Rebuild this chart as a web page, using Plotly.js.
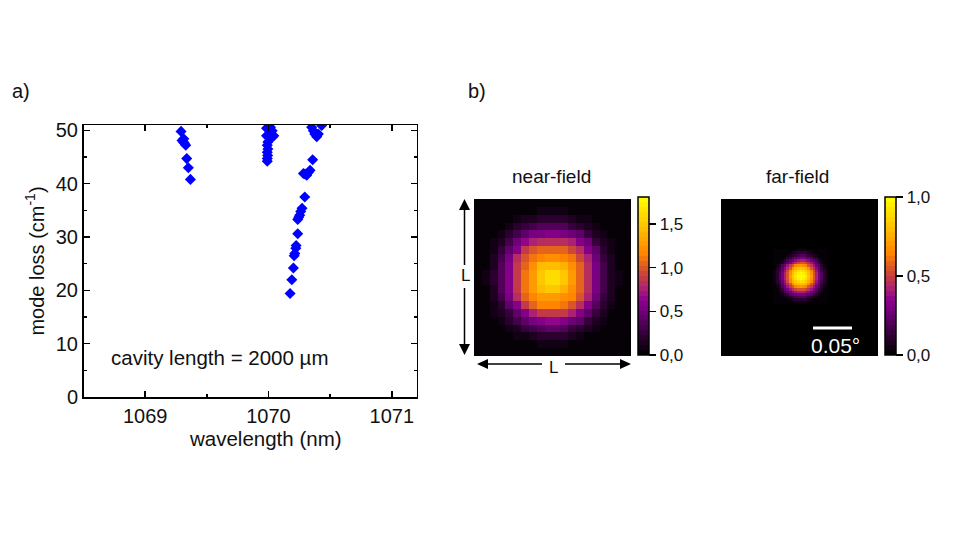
<!DOCTYPE html>
<html><head><meta charset="utf-8">
<script src="https://cdn.plot.ly/plotly-3.0.1.min.js"></script>
<style>html,body{margin:0;padding:0;background:#fff}#c{width:960px;height:540px}</style>
</head><body><div id="c"></div>
<script>
const wavelength = [1069.291,1069.299,1069.313,1069.31,1069.318,1069.329,1069.337,1069.35,1069.367,
 1069.99,1069.99,1069.993,1069.99,1069.995,1069.99,1069.995,1069.984,1070.011,1070.03,1070.011,1070.03,1069.984,1070.016,1070.043,
 1070.175,1070.189,1070.202,1070.208,1070.213,1070.221,1070.224,1070.237,1070.237,1070.245,1070.253,1070.261,1070.272,1070.294,
 1070.283,1070.296,1070.31,1070.323,1070.337,1070.358,1070.35,1070.364,1070.375,1070.391,1070.404,1070.431];
const modeLoss = [49.8,48.1,48.4,47.8,47.6,47.2,44.7,43.0,40.8,
 44.2,44.7,45.3,45.9,46.5,47.2,47.8,49.0,48.4,48.7,49.3,49.9,50.4,50.6,49.0,
 19.4,22.0,24.2,26.5,26.9,27.9,28.4,30.6,33.3,33.7,34.1,34.8,35.4,37.5,
 41.9,41.8,41.6,42.1,42.5,44.5,50.6,49.9,49.3,48.8,49.3,50.9];
const xTicks = [1069,1070,1071];
const yTicks = [0,10,20,30,40,50];
const nearField = [
[0,0,0,0,0,0,0,0,.01,.01,.01,.01,0,0,0,0,0,0,0,0],
[0,0,0,.01,.01,.02,.04,.05,.08,.09,.09,.08,.05,.03,.02,.01,.01,0,0,0],
[0,0,.01,.02,.05,.08,.12,.15,.18,.19,.19,.18,.14,.1,.06,.03,.02,.01,0,0],
[0,.01,.02,.05,.1,.18,.24,.3,.34,.38,.38,.34,.28,.22,.14,.07,.04,.02,.01,0],
[0,.01,.04,.1,.2,.32,.44,.52,.56,.6,.6,.56,.5,.42,.28,.16,.08,.03,.01,0],
[0,.02,.07,.16,.32,.48,.64,.76,.84,.84,.84,.84,.74,.62,.46,.28,.14,.06,.02,0],
[0,.03,.1,.24,.42,.62,.86,.98,1.02,1.02,1.02,1.02,.96,.84,.6,.4,.2,.09,.03,0],
[.01,.04,.14,.3,.54,.82,1,1.1,1.18,1.2,1.2,1.16,1.08,.96,.74,.5,.26,.12,.04,.01],
[.01,.05,.16,.34,.58,.86,1.06,1.24,1.42,1.46,1.46,1.38,1.22,1.02,.8,.54,.3,.14,.05,.01],
[.01,.06,.17,.36,.6,.88,1.1,1.3,1.52,1.62,1.62,1.5,1.3,1.06,.82,.56,.32,.16,.06,.01],
[.01,.06,.17,.36,.6,.88,1.1,1.3,1.5,1.6,1.6,1.48,1.3,1.06,.82,.56,.32,.16,.06,.01],
[.01,.05,.16,.34,.58,.86,1.08,1.26,1.42,1.48,1.48,1.4,1.24,1.04,.8,.54,.3,.14,.05,.01],
[.01,.04,.14,.3,.56,.8,1.02,1.16,1.26,1.28,1.28,1.24,1.14,.98,.76,.5,.26,.12,.04,.01],
[0,.03,.1,.22,.4,.6,.88,1.02,1.14,1.16,1.16,1.12,1,.84,.6,.38,.2,.09,.03,0],
[0,.02,.06,.14,.28,.44,.62,.78,.88,.9,.9,.86,.74,.6,.42,.26,.12,.05,.02,0],
[0,.01,.03,.08,.18,.3,.42,.54,.62,.64,.64,.6,.5,.4,.28,.15,.07,.03,.01,0],
[0,0,.02,.04,.1,.16,.24,.3,.36,.4,.4,.36,.28,.22,.14,.07,.03,.02,0,0],
[0,0,.01,.02,.03,.06,.1,.15,.18,.2,.2,.18,.14,.09,.05,.02,.01,0,0,0],
[0,0,0,0,.01,.02,.03,.05,.08,.1,.1,.08,.05,.03,.02,.01,0,0,0,0],
[0,0,0,0,0,0,.01,.01,.02,.02,.02,.02,.01,.01,0,0,0,0,0,0]];
const farField = [
[0,0,0,0,0,0,0,.01,.03,.04,.05,.05,.04,.03,.01,0,0,0,0,0,0],
[0,0,0,0,0,.01,.03,.06,.08,.10,.12,.12,.10,.08,.06,.03,.01,0,0,0,0],
[0,0,0,0,.02,.05,.09,.12,.15,.18,.20,.21,.18,.15,.12,.09,.05,.02,0,0,0],
[0,0,0,.02,.06,.10,.15,.20,.24,.27,.30,.31,.27,.24,.20,.15,.10,.06,.02,0,0],
[0,0,.01,.05,.10,.16,.22,.28,.35,.39,.42,.43,.39,.35,.28,.22,.16,.10,.05,.01,0],
[0,0,.03,.09,.15,.22,.31,.38,.45,.51,.55,.56,.51,.45,.38,.31,.22,.15,.09,.03,0],
[.01,.06,.12,.20,.28,.38,.47,.56,.63,.68,.70,.68,.63,.56,.47,.38,.28,.20,.12,.06,.01],
[.03,.08,.15,.24,.35,.45,.56,.67,.76,.81,.82,.81,.76,.67,.56,.45,.35,.24,.15,.08,.03],
[.04,.10,.18,.27,.39,.51,.63,.76,.84,.90,.92,.90,.84,.76,.63,.51,.39,.27,.18,.10,.04],
[.05,.12,.20,.30,.42,.55,.68,.81,.90,.96,.98,.96,.90,.81,.68,.55,.42,.30,.20,.12,.05],
[.05,.12,.21,.31,.43,.56,.70,.82,.92,.98,1,.98,.92,.82,.70,.56,.43,.31,.21,.12,.05],
[.05,.12,.20,.30,.42,.55,.68,.81,.90,.96,.98,.96,.90,.81,.68,.55,.42,.30,.20,.12,.05],
[.04,.10,.18,.27,.39,.51,.63,.76,.84,.90,.92,.90,.84,.76,.63,.51,.39,.27,.18,.10,.04],
[.03,.08,.15,.24,.35,.45,.56,.67,.76,.81,.82,.81,.76,.67,.56,.45,.35,.24,.15,.08,.03],
[.01,.06,.12,.20,.28,.38,.47,.56,.63,.68,.70,.68,.63,.56,.47,.38,.28,.20,.12,.06,.01],
[0,.03,.09,.15,.22,.31,.38,.45,.51,.55,.56,.55,.51,.45,.38,.31,.22,.15,.09,.03,0],
[0,.01,.05,.10,.16,.22,.28,.35,.39,.42,.43,.42,.39,.35,.28,.22,.16,.10,.05,.01,0],
[0,0,.02,.06,.10,.15,.20,.24,.27,.30,.31,.30,.27,.24,.20,.15,.10,.06,.02,0,0],
[0,0,0,.02,.05,.09,.12,.15,.18,.20,.21,.20,.18,.15,.12,.09,.05,.02,0,0,0],
[0,0,0,0,.01,.03,.06,.08,.10,.12,.12,.12,.10,.08,.06,.03,.01,0,0,0,0],
[0,0,0,0,0,0,.01,.03,.04,.05,.05,.05,.04,.03,.01,0,0,0,0,0,0]];
const cbAnchors = [[0,[0,0,0]],[.13,[50,0,55]],[.28,[115,0,125]],[.35,[140,0,140]],[.41,[165,30,120]],[.5,[200,64,64]],[.57,[224,96,32]],[.63,[255,128,0]],[.83,[255,200,0]],[1,[255,255,0]]];
function stepped(n){
  const cs=[];
  for(let i=0;i<n;i++){
    const f=(i+.5)/n; let k=0;
    while(k<cbAnchors.length-2&&f>cbAnchors[k+1][0])k++;
    const a=cbAnchors[k],b=cbAnchors[k+1],t=(f-a[0])/(b[0]-a[0]);
    const c='rgb('+a[1].map((v,j)=>Math.round(v+(b[1][j]-v)*t)).join(',')+')';
    cs.push([i/n,c]);cs.push([(i+1)/n,c]);
  }
  return cs;
}
const scale=stepped(32);
const W=960,H=540,font='"Liberation Sans", Arial, sans-serif';
const px=v=>v/W, py=v=>1-v/H;
function cbar(x,vals,text){return {x:px(x),xanchor:'left',xref:'paper',y:py(355),yanchor:'bottom',yref:'paper',len:158/H,lenmode:'fraction',
  thickness:11,thicknessmode:'pixels',outlinecolor:'#000',outlinewidth:1.5,tickmode:'array',tickvals:vals,ticktext:text,ticks:'outside',ticklen:7,tickwidth:1.5,tickcolor:'#000',
  xpad:0,ypad:0,tickfont:{family:font,size:17,color:'#111'}};}
const traces=[
 {type:'scatter',mode:'markers',x:wavelength,y:modeLoss,xaxis:'x',yaxis:'y',marker:{symbol:'diamond',size:8.5,color:'#0000ff'},hoverinfo:'skip'},
 {type:'heatmap',z:nearField,xaxis:'x2',yaxis:'y2',zmin:0,zmax:1.81,colorscale:scale,colorbar:cbar(638,[0,.5,1,1.5],['0,0','0,5','1,0','1,5'])},
 {type:'heatmap',z:farField,x0:20,dx:1,y0:19,dy:1,xaxis:'x3',yaxis:'y3',zmin:0,zmax:1,colorscale:scale,colorbar:cbar(884.5,[0,.5,1],['0,0','0,5','1,0'])}
];
const hidden=(d,r)=>({domain:d,range:r,visible:false,fixedrange:true});
function seg(x0,y0,x1,y1){return {type:'line',xref:'paper',yref:'paper',x0:px(x0),x1:px(x1),y0:py(y0),y1:py(y1),line:{color:'#000',width:1.5},layer:'above'};}
function tri(pts){return {type:'path',xref:'paper',yref:'paper',path:'M'+pts.map(p=>px(p[0])+','+py(p[1])).join('L')+'Z',fillcolor:'#000',line:{width:0},layer:'above'};}
function label(t,x,y,size,color,anchor){return {text:t,x:px(x),y:py(y),xref:'paper',yref:'paper',showarrow:false,xanchor:anchor||'center',yanchor:'middle',font:{family:font,size:size,color:color||'#111'}};}
const layout={
 width:W,height:H,margin:{l:0,r:0,t:0,b:0,pad:0},paper_bgcolor:'#fff',plot_bgcolor:'#fff',showlegend:false,
 font:{family:font,color:'#111'},
 xaxis:{domain:[px(83.5),px(416.5)],range:[1068.5,1071.2],tickvals:xTicks,ticks:'inside',ticklen:6,tickwidth:1.5,tickcolor:'#000',showline:true,linecolor:'#000',linewidth:1.5,mirror:'ticks',showgrid:false,zeroline:false,
   minor:{dtick:.5,ticks:'inside',ticklen:3,tickwidth:1.5,tickcolor:'#000',showgrid:false},
   tickfont:{size:20,color:'#111',family:font},automargin:false},
 yaxis:{domain:[py(397),py(125)],range:[0,51],tickvals:yTicks,ticks:'inside',ticklen:6,tickwidth:1.5,tickcolor:'#000',showline:true,linecolor:'#000',linewidth:1.5,mirror:'ticks',showgrid:false,zeroline:false,
   minor:{dtick:5,ticks:'inside',ticklen:3,tickwidth:1.5,tickcolor:'#000',showgrid:false},
   tickfont:{size:20,color:'#111',family:font},title:{text:'mode loss (cm<sup>-1</sup>)',font:{size:20,color:'#111',family:font},standoff:6},automargin:false},
 xaxis2:hidden([px(474),px(631)],[-.5,19.5]),
 yaxis2:hidden([py(356),py(199)],[19.5,-.5]),
 xaxis3:hidden([px(721),px(878)],[-.5,59.5]),
 yaxis3:hidden([py(356),py(199)],[59.5,-.5]),
 shapes:[
  {type:'rect',xref:'paper',yref:'paper',x0:px(721),x1:px(878),y0:py(356),y1:py(199),fillcolor:'#000',line:{width:0},layer:'below'},
  {type:'line',xref:'paper',yref:'paper',x0:px(813),x1:px(852),y0:py(328),y1:py(328),line:{color:'#fff',width:3},layer:'above'},
  seg(464.5,205,464.5,265),seg(464.5,288,464.5,349),seg(483,364,542,364),seg(565,364,625,364),
  tri([[464.5,199],[459,210],[470,210]]),tri([[464.5,355],[459,344],[470,344]]),
  tri([[477,364],[488,359],[488,369]]),tri([[631,364],[620,359],[620,369]])
 ],
 annotations:[
  label('a)',10,91,20,'#111','left'),label('b)',466,91,20,'#111','left'),
  label('wavelength (nm)',265,438,20.5),
  label('near-field',551,177,19),label('far-field',797,177,19),
  label('cavity length = 2000 µm',109,357,20.5,'#111','left'),
  label('0.05°',835,345,21,'#fff'),
  label('L',465,275,17),label('L',553,367,17)
 ]
};
Plotly.newPlot('c',traces,layout,{staticPlot:true,displayModeBar:false});
</script></body></html>
